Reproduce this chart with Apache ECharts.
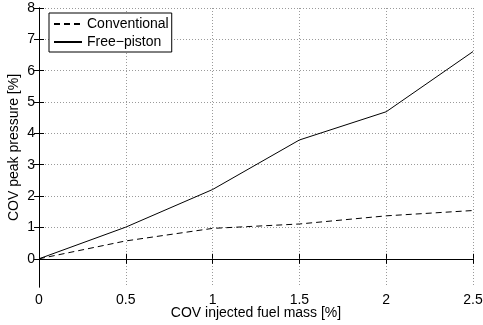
<!DOCTYPE html>
<html>
<head>
<meta charset="utf-8">
<script src="https://cdn.jsdelivr.net/npm/echarts@6/dist/echarts.min.js"></script>
<style>
html, body { margin: 0; padding: 0; background: #fff; }
#main { width: 483px; height: 325px; }
</style>
</head>
<body>
<div id="main"></div>
<script>
// values
let fuelMass = [0, 0.5, 1, 1.5, 2, 2.5];
let conventional = [0, 0.57, 0.97, 1.11, 1.37, 1.54];
let freePiston = [0, 1.01, 2.21, 3.79, 4.69, 6.61];
let yTicks = [0, 1, 2, 3, 4, 5, 6, 7, 8];

let font = 'Liberation Sans, Arial, Helvetica, sans-serif';
let chartDom = document.getElementById('main');
let myChart = echarts.init(chartDom);

function pairs(ys) {
	return fuelMass.map(function(x, i) {
		return [x, ys[i]];
	});
}

let blackLine = { lineStyle: { color: '#000', width: 1 } };
let dotted = { show: true, lineStyle: { color: '#9a9a9a', width: 1, type: [1, 2] } };

let option = {
	animation: false,
	textStyle: { fontFamily: font },
	grid: {
		left: 39,
		right: 10,
		top: 8,
		bottom: 38,
		outerBoundsMode: 'none'
	},
	legend: {
		left: 49,
		top: 13,
		orient: 'vertical',
		padding: [4, 3, 3, 4],
		itemWidth: 28,
		itemHeight: 14,
		itemGap: 4,
		backgroundColor: '#fff',
		borderColor: '#000',
		borderWidth: 1,
		borderRadius: 0,
		itemStyle: { opacity: 0 },
		textStyle: { color: '#000', fontSize: 14, fontFamily: font },
		data: ['Conventional', 'Free\u2212piston']
	},
	xAxis: [{
			type: 'value',
			position: 'bottom',
			min: 0,
			max: 2.5,
			interval: 0.5,
			name: 'COV injected fuel mass [%]',
			nameLocation: 'middle',
			nameGap: 19,
			nameMoveOverlap: false,
			nameTextStyle: { color: '#000', fontSize: 14, fontFamily: font },
			axisLine: blackLine,
			axisTick: { inside: true, length: 5, lineStyle: { color: '#000' } },
			axisLabel: { color: '#000', fontSize: 14, margin: 6, fontFamily: font },
			splitLine: dotted
		},
		{
			type: 'value',
			position: 'top',
			min: 0,
			max: 2.5,
			interval: 0.5,
			axisLine: blackLine,
			axisTick: { inside: true, length: 5, lineStyle: { color: '#000' } },
			axisLabel: { show: false },
			splitLine: { show: false }
		}
	],
	yAxis: [{
			type: 'value',
			position: 'left',
			min: -0.9,
			max: 8,
			name: 'COV peak pressure [%]',
			nameLocation: 'middle',
			nameGap: 18,
			nameMoveOverlap: false,
			nameTextStyle: { color: '#000', fontSize: 14, fontFamily: font },
			axisLine: blackLine,
			axisTick: { inside: true, length: 5, customValues: yTicks, lineStyle: { color: '#000' } },
			axisLabel: { color: '#000', fontSize: 14, margin: 4, customValues: yTicks, fontFamily: font },
			splitLine: dotted
		},
		{
			type: 'value',
			position: 'right',
			min: -0.9,
			max: 8,
			axisLine: blackLine,
			axisTick: { inside: true, length: 5, customValues: yTicks, lineStyle: { color: '#000' } },
			axisLabel: { show: false, customValues: yTicks },
			splitLine: { show: false }
		}
	],
	series: [{
			name: 'Conventional',
			type: 'line',
			data: pairs(conventional),
			symbol: 'none',
			lineStyle: { color: '#000', width: 1, type: [6, 4] },
			itemStyle: { color: '#000' }
		},
		{
			name: 'Free\u2212piston',
			type: 'line',
			data: pairs(freePiston),
			symbol: 'none',
			lineStyle: { color: '#000', width: 1 },
			itemStyle: { color: '#000' }
		}
	]
};

myChart.setOption(option);
</script>
</body>
</html>
